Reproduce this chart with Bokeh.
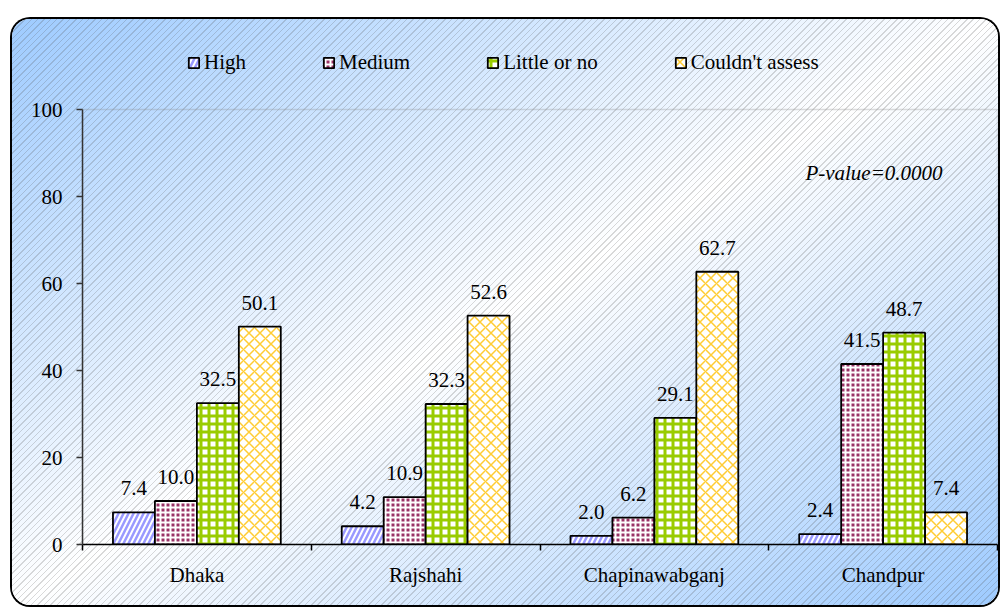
import numpy as np
from bokeh.plotting import figure
from bokeh.models import (ColumnDataSource, FixedTicker, Legend, LegendItem,
                          Label, BoxAnnotation)
from bokeh.core.properties import value
from bokeh.embed import file_html
from bokeh.resources import INLINE

# ---------------- data ----------------
regions = ["Dhaka", "Rajshahi", "Chapinawabganj", "Chandpur"]
series = ["High", "Medium", "Little or no", "Couldn't assess"]
high = [7.4, 4.2, 2.0, 2.4]
medium = [10.0, 10.9, 6.2, 41.5]
little = [32.5, 32.3, 29.1, 48.7]
couldnt = [50.1, 52.6, 62.7, 7.4]
y_ticks = [0, 20, 40, 60, 80, 100]
p_value_text = "P-value=0.0000"

FONT = "Liberation Serif"
FS = "21px"
W, H = 986, 586
Y_MAX = 100
PLOT_H = 435          # pixel height of the 0..100 plot area
TOP_EXTRA = 69        # pixels above the plot area kept for the legend
y_end = Y_MAX * (PLOT_H + TOP_EXTRA) / PLOT_H

p = figure(width=W, height=H, x_range=(0, len(regions)), y_range=(0, y_end),
           output_backend="svg", toolbar_location=None,
           min_border_left=70, min_border_right=1,
           min_border_top=90 - TOP_EXTRA, min_border_bottom=61)

p.border_fill_color = None
p.background_fill_color = None
p.outline_line_color = None
p.margin = (19, 0, 0, 12)
p.styles = {
    "border-radius": "18px",
    "box-shadow": "0 0 0 2px #000000",
    "background": ("repeating-linear-gradient(135deg, rgba(80,80,80,0.22) 0px, "
                   "rgba(80,80,80,0.22) 1px, rgba(0,0,0,0) 1px, rgba(0,0,0,0) 4.5px), "
                   "linear-gradient(to bottom right, #9ecbff 0%, #ffffff 50%, #9ecbff 100%)"),
}

# plot-area border (gray, as in the original)
p.add_layout(BoxAnnotation(left=0, right=len(regions), bottom=0, top=Y_MAX,
                           fill_alpha=0, line_color="#8c8c8c", line_width=1.5,
                           level="underlay"))

styles = [
    dict(fill_color="white", hatch_pattern="/", hatch_color="#9999ff",
         hatch_weight=2.5, hatch_scale=10),
    dict(fill_color="#993366", hatch_pattern="+", hatch_color="white",
         hatch_weight=2, hatch_scale=5),
    dict(fill_color="white", hatch_pattern="+", hatch_color="#99cc00",
         hatch_weight=3, hatch_scale=8),
    dict(fill_color="white", hatch_pattern="x", hatch_color="#ffcc33",
         hatch_weight=1.5, hatch_scale=11),
]

values = [high, medium, little, couldnt]
n = len(series)
bw = 0.1834
offsets = (np.arange(n) - (n - 1) / 2) * bw
xc = np.arange(len(regions)) + 0.5

items = []
for s_name, vals, off, st in zip(series, values, offsets, styles):
    src = ColumnDataSource(dict(x=xc + off, top=vals,
                                label=[f"{v:.1f}" for v in vals]))
    r = p.vbar(x="x", top="top", bottom=0, width=bw, source=src,
               line_color="black", line_width=1.8, **st)
    p.text(x="x", y="top", text="label", source=src, text_align="center",
           text_baseline="alphabetic", y_offset=-24,
           text_font=value(FONT), text_font_size=FS, text_color="black")
    items.append(LegendItem(label=s_name, renderers=[r]))

legend = Legend(items=items, orientation="horizontal",
                location=(105, PLOT_H + 34),
                glyph_width=13, glyph_height=13, label_standoff=4, spacing=76,
                padding=0, margin=0, border_line_color=None,
                background_fill_alpha=0, label_text_font=FONT,
                label_text_font_size=FS, label_text_color="black")
p.add_layout(legend)

# ---------------- axes ----------------
p.xgrid.visible = False
p.ygrid.visible = False

xa = p.xaxis[0]
xa.ticker = FixedTicker(ticks=list(xc), minor_ticks=list(range(len(regions) + 1)))
xa.major_label_overrides = {float(x): r for x, r in zip(xc, regions)}
xa.major_tick_out = 0
xa.major_tick_in = 0
xa.minor_tick_out = 6
xa.minor_tick_in = 0
xa.minor_tick_line_color = "black"
xa.minor_tick_line_width = 1.5
xa.axis_line_color = "black"
xa.axis_line_width = 1.5
xa.major_label_standoff = 12

ya = p.yaxis[0]
ya.ticker = FixedTicker(ticks=y_ticks, minor_ticks=[])
ya.bounds = (0, Y_MAX)
ya.major_tick_out = 6
ya.major_tick_in = 0
ya.major_tick_line_color = "#333333"
ya.major_tick_line_width = 1.5
ya.axis_line_color = "#333333"
ya.axis_line_width = 1.5
ya.major_label_standoff = 14

for ax in (xa, ya):
    ax.major_label_text_font = FONT
    ax.major_label_text_font_size = FS
    ax.major_label_text_color = "black"

p.add_layout(Label(x=3.76, y=85.3, text=p_value_text, text_align="right",
                   text_baseline="middle", text_font=FONT,
                   text_font_style="italic", text_font_size=FS,
                   text_color="black"))

open("out.html", "w").write(file_html(p, INLINE))
